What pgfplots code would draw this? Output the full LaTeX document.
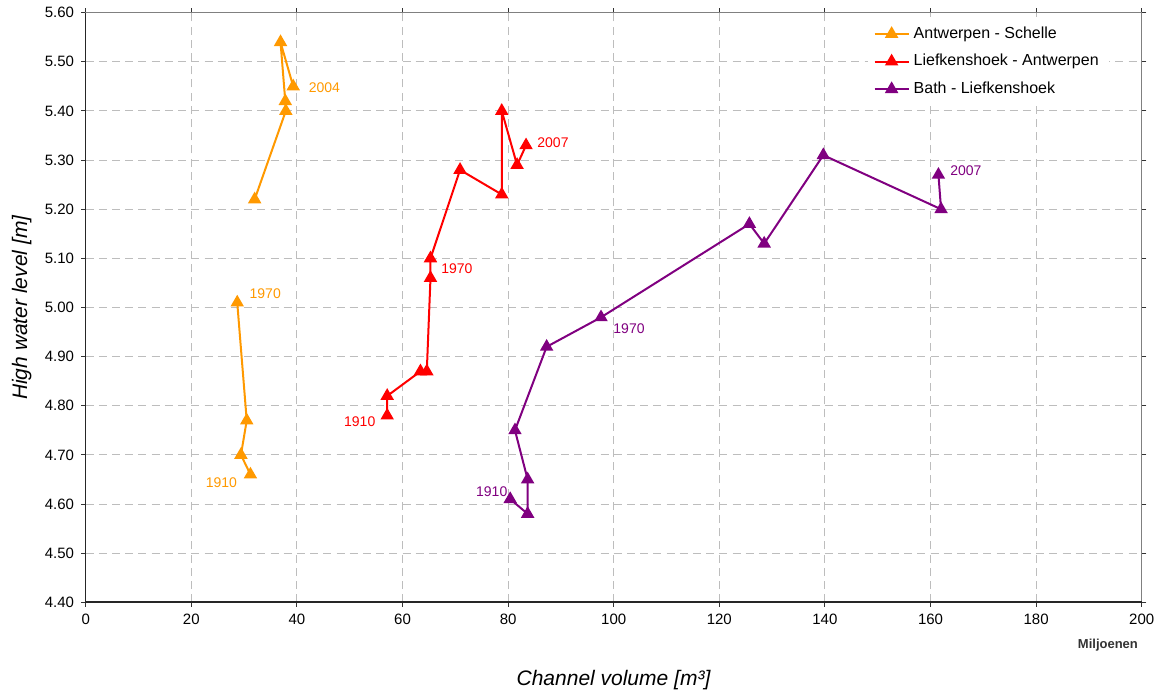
\documentclass[border=0pt]{standalone}
\usepackage{fontspec}
\setmainfont{Liberation Sans}
\usepackage{pgfplots}
\pgfplotsset{compat=1.18}
\usetikzlibrary{calc}
\definecolor{cOrange}{HTML}{FF9900}
\definecolor{cRed}{HTML}{FF0000}
\definecolor{cPurple}{HTML}{800080}
\definecolor{cGrid}{HTML}{BDBDBD}
\begin{document}
\begin{tikzpicture}
\begin{axis}[name=ax, scale only axis, width=528pt, height=294.8pt,
  xmin=0, xmax=200, ymin=4.4, ymax=5.6,
  xtick={0,20,40,60,80,100,120,140,160,180,200},
  ytick={4.4,4.5,4.6,4.7,4.8,4.9,5.0,5.1,5.2,5.3,5.4,5.5,5.6},
  /pgf/number format/assume math mode=true,
  yticklabel style={/pgf/number format/.cd, fixed, fixed zerofill, precision=2},
  xticklabel style={/pgf/number format/.cd, fixed, precision=0},
  ticklabel style={font=\fontsize{7.5}{9}\selectfont, black},
  tick align=outside, major tick length=2.3pt,
  tick style={black!80, line width=0.5pt},
  axis line style={draw=black!50, line width=0.6pt},
  grid=major,
  major grid style={cGrid, dash pattern=on 4pt off 2.6pt, line width=0.5pt},
  xlabel={\textit{Channel volume [m³]}},
  ylabel={\textit{High water level [m]}},
  xlabel style={at={(axis description cs:0.5,0)}, anchor=center, yshift=-39pt, font=\fontsize{10.5}{12}\selectfont},
  ylabel style={at={(axis description cs:0,0.5)}, anchor=center, yshift=32pt, font=\fontsize{10.5}{12}\selectfont},
  legend style={at={(0.74,0.994)}, anchor=north west, draw=none, fill=white,
    font=\fontsize{8}{9.6}\selectfont, row sep=2.5pt, inner sep=3pt},
  legend cell align=left,
  clip=false,
  every axis plot/.append style={line width=1pt, mark=triangle*, mark size=2.9pt},
]
\addplot[cOrange, mark options={fill=cOrange}] coordinates {(32.0,5.22) (37.9,5.40) (37.8,5.42) (36.9,5.54) (39.3,5.45)};
\addlegendentry{Antwerpen - Schelle}
\addplot[cRed, mark options={fill=cRed}] coordinates {(57.1,4.78) (57.1,4.82) (63.4,4.87) (64.6,4.87) (65.3,5.06) (65.3,5.10) (70.9,5.28) (78.8,5.23) (78.8,5.40) (81.7,5.29) (83.4,5.33)};
\addlegendentry{Liefkenshoek - Antwerpen}
\addplot[cPurple, mark options={fill=cPurple}] coordinates {(80.4,4.61) (83.7,4.58) (83.7,4.65) (81.3,4.75) (87.3,4.92) (97.6,4.98) (125.7,5.17) (128.5,5.13) (139.7,5.31) (162.0,5.20) (161.5,5.27)};
\addlegendentry{Bath - Liefkenshoek}
\addplot[cOrange, mark options={fill=cOrange}, forget plot] coordinates {(31.2,4.66) (29.4,4.70) (30.5,4.77) (28.7,5.01)};
\draw[black!85, line width=0.8pt] (rel axis cs:0,1) -- (rel axis cs:0,0) -- (rel axis cs:1,0);
\begin{scope}[every node/.style={font=\fontsize{7}{8.4}\selectfont, inner sep=0pt}]
\node[cOrange] at (axis cs:45.2,5.447) {2004};
\node[cOrange] at (axis cs:34.0,5.028) {1970};
\node[cOrange] at (axis cs:25.7,4.643) {1910};
\node[cRed] at (axis cs:51.9,4.768) {1910};
\node[cRed] at (axis cs:70.3,5.080) {1970};
\node[cRed] at (axis cs:88.5,5.336) {2007};
\node[cPurple] at (axis cs:76.9,4.625) {1910};
\node[cPurple] at (axis cs:102.9,4.956) {1970};
\node[cPurple] at (axis cs:166.7,5.279) {2007};
\end{scope}
\node[font=\fontsize{6.5}{7.8}\selectfont\bfseries, text=black!80] at (axis cs:193.6,4.313) {Miljoenen};
\end{axis}
\useasboundingbox ($(ax.south west)+(-42.85pt,-46.35pt)$) rectangle ($(ax.north east)+(11.65pt,6.35pt)$);
\end{tikzpicture}
\end{document}
